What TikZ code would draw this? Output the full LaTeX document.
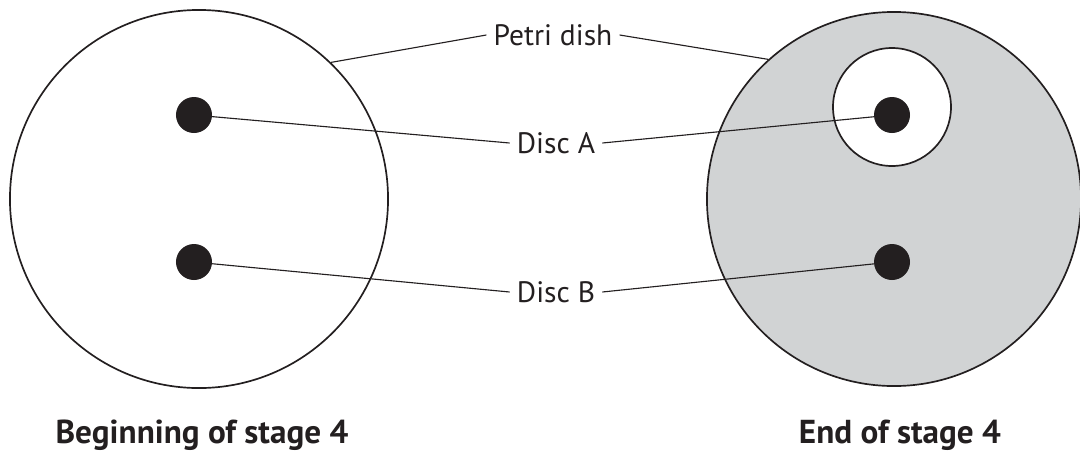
\documentclass[tikz,border=0pt]{standalone}
\usepackage{fontspec}
\setmainfont{PT Sans}
\usepackage{tikz}
\definecolor{ink}{RGB}{35,31,32}
\definecolor{lawn}{RGB}{209,211,212}
\tikzset{
  dish/.style={circle, draw=ink, line width=1.2pt, minimum size=9.45cm, inner sep=0pt},
  disc/.style={circle, fill=ink, minimum size=0.9cm, inner sep=0pt},
  lbl/.style={text=ink, inner sep=5pt, font=\fontsize{21}{25}\selectfont},
  title/.style={text=ink, inner sep=0pt, font=\fontsize{23.6}{28}\selectfont\bfseries},
  lead/.style={draw=ink, line width=0.8pt}
}

\begin{document}
\begin{tikzpicture}[x=0.025cm, y=-0.025cm]
			%%%%% START %%%%%
			\useasboundingbox (0, 0) rectangle (1080, 456);
			
			% beginning of stage 4
			\node[dish] (dishL) at (199, 199) {};
			\node[disc] (discAL) at (194, 115) {};
			\node[disc] (discBL) at (194, 262) {};
			
			% end of stage 4
			\node[dish, fill=lawn, minimum size=9.35cm] (dishR) at (894, 199) {};
			\draw[draw=ink, line width=1.2pt, fill=white] (892, 107) circle [radius=59];
			\node[disc] (discAR) at (892, 115) {};
			\node[disc] (discBR) at (892, 262) {};
			
			% labels in the middle
			\node[lbl] (petri) at (553, 35) {Petri dish};
			\node[lbl] (lblA) at (556, 143) {Disc A};
			\node[lbl] (lblB) at (556, 292) {Disc B};
			
			\draw[lead] (petri.west) -- (dishL.46);
			\draw[lead] (petri.east) -- (dishR.132);
			\draw[lead] (lblA.west) -- (discAL);
			\draw[lead] (lblA.east) -- (discAR);
			\draw[lead] (lblB.west) -- (discBL);
			\draw[lead] (lblB.east) -- (discBR);
			
			% titles
			\node[title, anchor=base] (begin) at (202, 443) {Beginning of stage 4};
			\node[title, anchor=base] (end) at (900, 443) {End of stage 4};
			
			%%%%% END %%%%%
\end{tikzpicture}
\end{document}
